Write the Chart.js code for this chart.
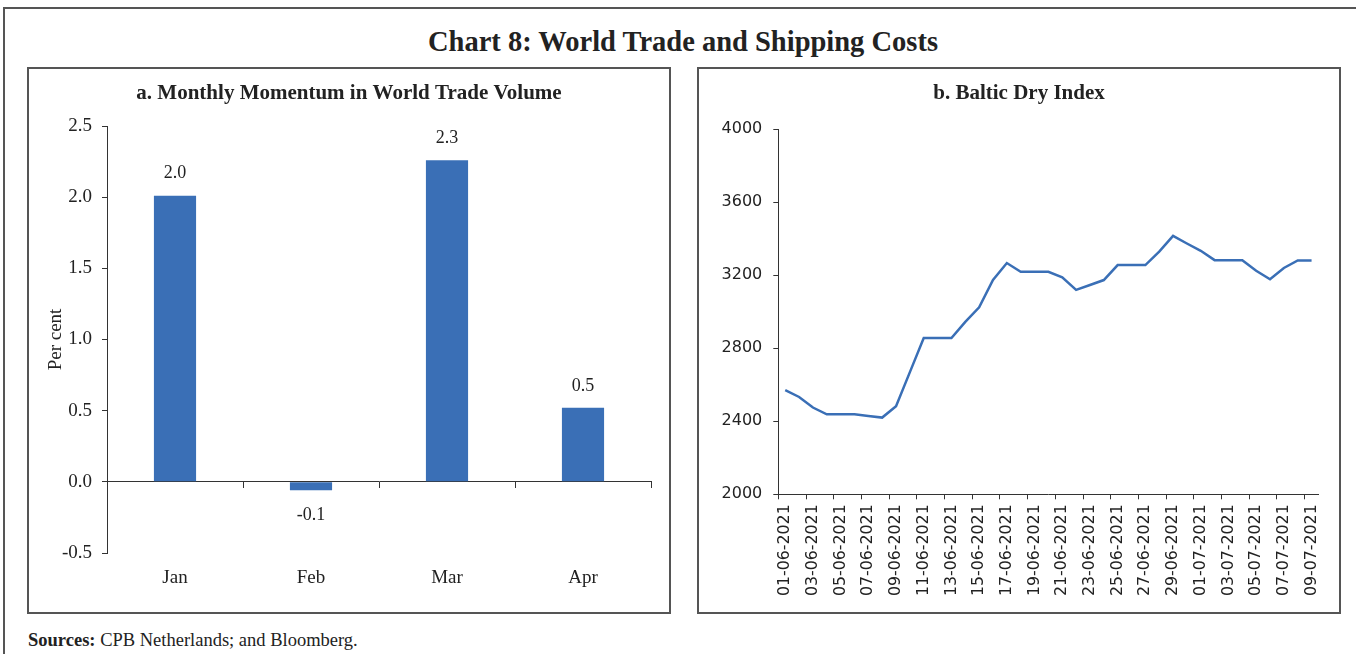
<!DOCTYPE html>
<html>
<head>
<meta charset="utf-8">
<script src="https://cdn.jsdelivr.net/npm/chart.js@4.4.0/dist/chart.umd.min.js"></script>
<style>
  body { margin: 0; width: 1356px; height: 654px; overflow: hidden; background: #fff; color: #222; font-family: "Liberation Serif", serif; }
  #frame { position: absolute; left: 3px; top: 7px; width: 1370px; height: 720px; border: 2px solid #555; box-sizing: border-box; }
  #title { position: absolute; left: 0; top: 26px; width: 1366px; text-align: center; font-weight: bold; font-size: 28.5px; line-height: 32px; }
  .panel { position: absolute; top: 67px; width: 644px; height: 547px; border: 2px solid #555; box-sizing: border-box; }
  .panel canvas { position: absolute; left: 0; top: 0; }
  #sources { position: absolute; left: 28px; top: 629px; font-size: 18.5px; line-height: 22px; }
</style>
</head>
<body>
<div id="frame"></div>
<div id="title">Chart 8: World Trade and Shipping Costs</div>
<div class="panel" style="left:27px"><canvas id="tradeChart" width="640" height="543"></canvas></div>
<div class="panel" style="left:697px"><canvas id="bdiChart" width="640" height="543"></canvas></div>
<div id="sources"><b>Sources:</b> CPB Netherlands; and Bloomberg.</div>

<script>
// Panel a: monthly momentum in world trade volume (per cent)
const months = ["Jan", "Feb", "Mar", "Apr"];
const tradeMomentum = [2.01, -0.06, 2.26, 0.52];

// Panel b: Baltic Dry Index, daily
const bdiDates = [
  "01-06-2021", "02-06-2021", "03-06-2021", "04-06-2021", "05-06-2021", "06-06-2021", "07-06-2021",
  "08-06-2021", "09-06-2021", "10-06-2021", "11-06-2021", "12-06-2021", "13-06-2021", "14-06-2021",
  "15-06-2021", "16-06-2021", "17-06-2021", "18-06-2021", "19-06-2021", "20-06-2021", "21-06-2021",
  "22-06-2021", "23-06-2021", "24-06-2021", "25-06-2021", "26-06-2021", "27-06-2021", "28-06-2021",
  "29-06-2021", "30-06-2021", "01-07-2021", "02-07-2021", "03-07-2021", "04-07-2021", "05-07-2021",
  "06-07-2021", "07-07-2021", "08-07-2021", "09-07-2021"
];
const bdiValues = [
  2570, 2533, 2475, 2438, 2438, 2438, 2429, 2420, 2482, 2669,
  2856, 2856, 2856, 2944, 3024, 3173, 3266, 3218, 3218, 3218,
  3188, 3119, 3146, 3173, 3255, 3255, 3255, 3329, 3415, 3373,
  3333, 3282, 3282, 3282, 3224, 3177, 3239, 3280, 3280
];

const blue = "#3a6fb6";
const axisColor = "#333";
const serif = "'Liberation Serif', serif";
const sans = "'DejaVu Sans', sans-serif";

// draw value labels above / below the bars
const barValueLabels = {
  id: "barValueLabels",
  afterDatasetsDraw(chart) {
    const ctx = chart.ctx;
    const meta = chart.getDatasetMeta(0);
    ctx.save();
    ctx.font = "18px " + serif;
    ctx.fillStyle = "#222";
    ctx.textAlign = "center";
    ctx.textBaseline = "middle";
    meta.data.forEach((bar, i) => {
      const v = tradeMomentum[i];
      const y = v >= 0 ? bar.y - 22 : bar.y + 25;
      ctx.fillText(v.toFixed(1), bar.x, y);
    });
    ctx.restore();
  }
};

new Chart(document.getElementById("tradeChart"), {
  type: "bar",
  data: {
    labels: months,
    datasets: [{
      data: tradeMomentum,
      backgroundColor: blue,
      barPercentage: 0.31,
      categoryPercentage: 1.0
    }]
  },
  options: {
    responsive: false,
    animation: false,
    // equal side padding keeps the panel title centred
    layout: { padding: { left: 18, right: 18, top: 0, bottom: 0 } },
    plugins: {
      legend: { display: false },
      tooltip: { enabled: false },
      title: {
        display: true,
        text: "a. Monthly Momentum in World Trade Volume",
        color: "#222",
        font: { family: serif, size: 21, weight: "bold" },
        padding: { top: 12, bottom: 19.8 }
      }
    },
    scales: {
      x: {
        position: "bottom",
        grid: { display: false },
        border: { display: false },
        ticks: { color: "#222", font: { family: serif, size: 19 }, padding: 6 },
        afterFit: (s) => { s.height = 59; }
      },
      x0: {
        axis: "x",
        type: "category",
        position: { y: 0 },
        offset: true,
        grid: { offset: true, drawOnChartArea: false, drawTicks: true, tickLength: 6, color: axisColor },
        border: { display: true, color: axisColor, width: 1 },
        ticks: { display: false }
      },
      y: {
        min: -0.5,
        max: 2.5,
        grid: { drawOnChartArea: false, drawTicks: true, tickLength: 5, color: axisColor },
        border: { display: true, color: axisColor, width: 1 },
        ticks: {
          stepSize: 0.5,
          color: "#222",
          padding: 10,
          font: { family: serif, size: 19 },
          callback: (v) => Number(v).toFixed(1)
        },
        title: {
          display: true,
          text: "Per cent",
          color: "#222",
          font: { family: serif, size: 19, lineHeight: 1.0 },
          padding: { top: 0, bottom: 0 }
        },
        afterFit: (s) => { s.width = 60; }
      }
    }
  },
  plugins: [barValueLabels]
});

new Chart(document.getElementById("bdiChart"), {
  type: "line",
  data: {
    labels: bdiDates,
    datasets: [{
      data: bdiValues,
      borderColor: blue,
      borderWidth: 2.5,
      pointRadius: 0,
      fill: false,
      tension: 0
    }]
  },
  options: {
    responsive: false,
    animation: false,
    layout: { padding: { left: 20.5, right: 20.5, top: 0, bottom: 0 } },
    plugins: {
      legend: { display: false },
      tooltip: { enabled: false },
      title: {
        display: true,
        text: "b. Baltic Dry Index",
        color: "#222",
        font: { family: serif, size: 21, weight: "bold" },
        padding: { top: 12, bottom: 22.8 }
      }
    },
    scales: {
      x: {
        offset: true,
        grid: {
          offset: true,
          drawOnChartArea: false,
          drawTicks: true,
          tickLength: 5,
          color: axisColor,
          tickColor: (c) => (c.index % 2 === 0 ? axisColor : "rgba(0,0,0,0)")
        },
        border: { display: true, color: axisColor, width: 1 },
        ticks: {
          autoSkip: false,
          maxRotation: 90,
          minRotation: 90,
          padding: 5,
          color: "#222",
          font: { family: sans, size: 15.8 },
          callback: function (v, i) { return i % 2 === 0 ? this.getLabelForValue(v) : ""; }
        },
        afterFit: (s) => { s.height = 117.7; }
      },
      y: {
        min: 2000,
        max: 4000,
        grid: { drawOnChartArea: false, drawTicks: true, tickLength: 5, color: axisColor },
        border: { display: true, color: axisColor, width: 1 },
        ticks: {
          stepSize: 400,
          color: "#222",
          padding: 11,
          font: { family: sans, size: 16 },
          callback: (v) => String(v)
        },
        afterFit: (s) => { s.width = 58.8; }
      }
    }
  }
});
</script>
</body>
</html>
